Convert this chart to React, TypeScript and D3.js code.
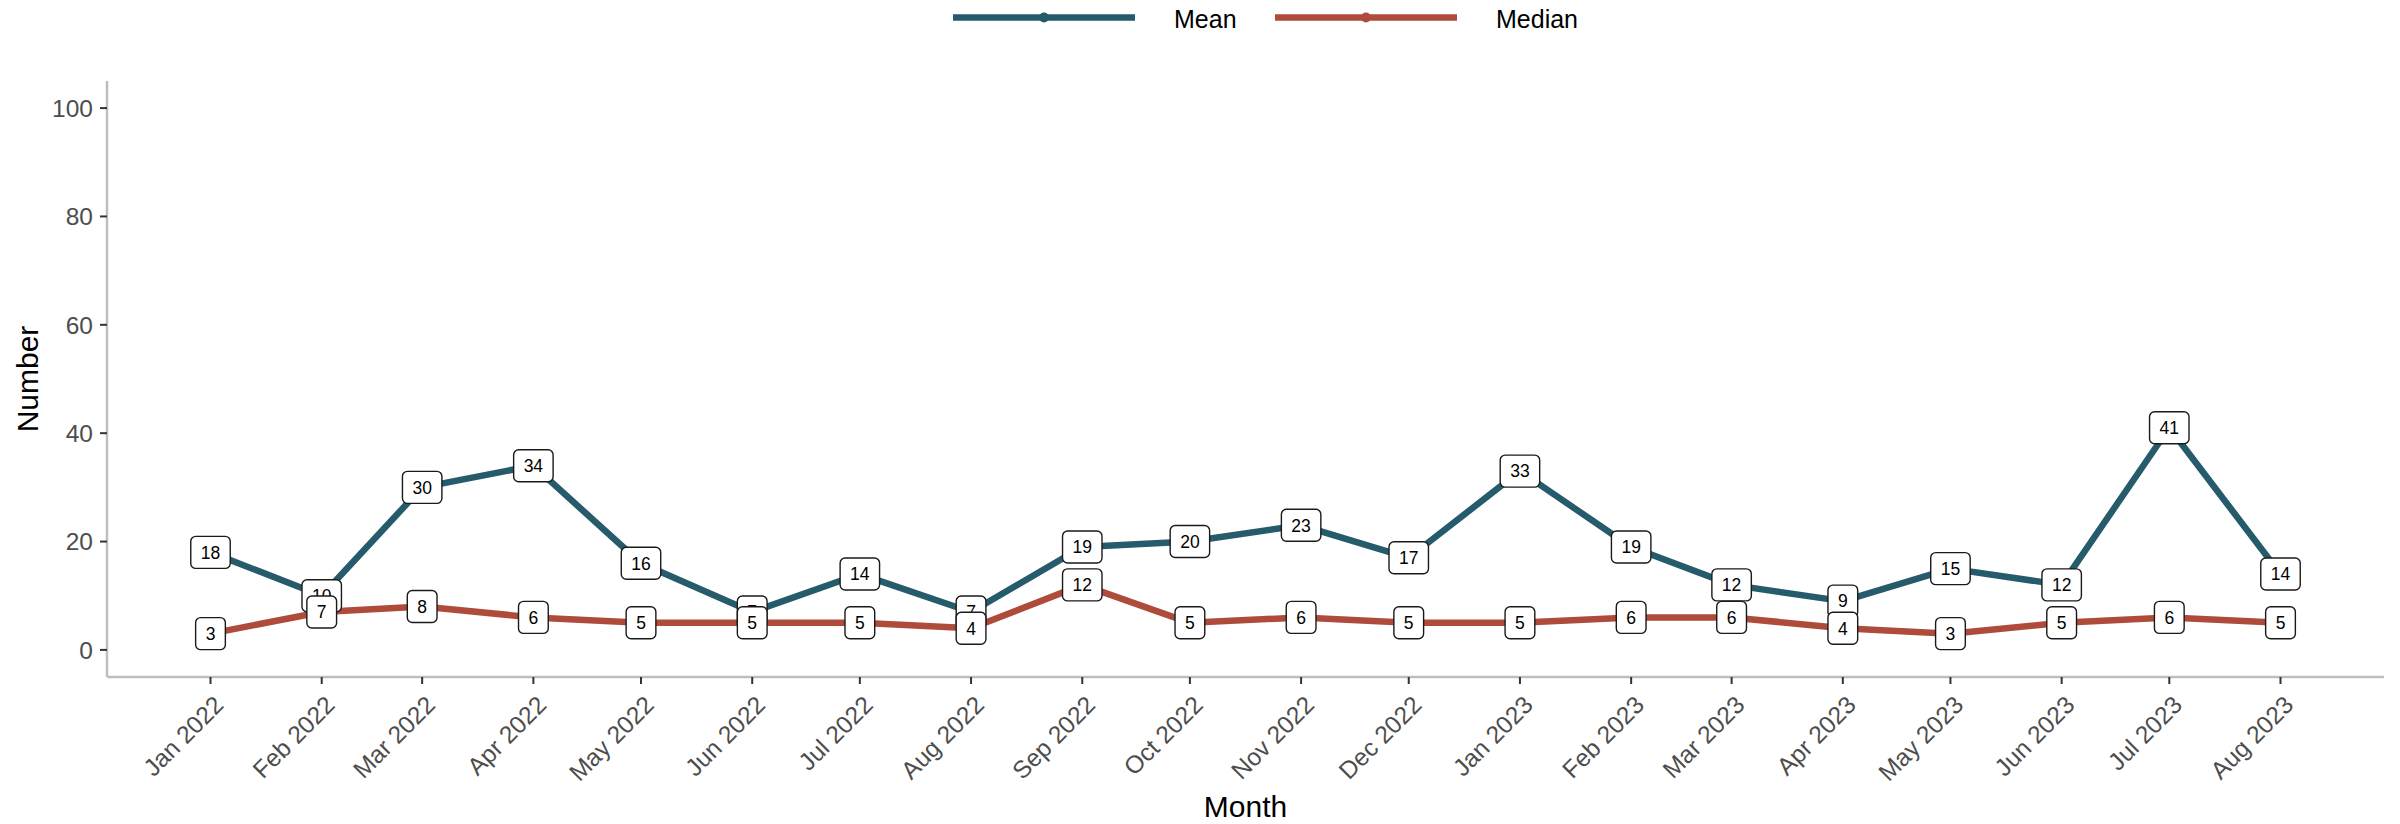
import React from 'react';
import * as d3 from 'd3';

// months shown on the x axis
const months = [
  '2022-01', '2022-02', '2022-03', '2022-04', '2022-05', '2022-06', '2022-07',
  '2022-08', '2022-09', '2022-10', '2022-11', '2022-12', '2023-01', '2023-02',
  '2023-03', '2023-04', '2023-05', '2023-06', '2023-07', '2023-08',
];
const meanValues = [18, 10, 30, 34, 16, 7, 14, 7, 19, 20, 23, 17, 33, 19, 12, 9, 15, 12, 41, 14];
const medianValues = [3, 7, 8, 6, 5, 5, 5, 4, 12, 5, 6, 5, 5, 6, 6, 4, 3, 5, 6, 5];
const yTicks = [0, 20, 40, 60, 80, 100];

const seriesNames = ['Mean', 'Median'];
const colors = ['#255B6B', '#AE4B3B'];

const WIDTH = 2400;
const HEIGHT = 824;
const PANEL = { left: 107, right: 2384, top: 81, bottom: 677 };
const FONT = '"Liberation Sans", Arial, Helvetica, sans-serif';

const parseMonth = d3.timeParse('%Y-%m');
const fmtMonth = d3.timeFormat('%b %Y');

type Pt = { date: Date; value: number };

const App: React.FC = () => {
  const dates = months.map(m => parseMonth(m)!);

  // ggplot style 5% expansion on both scales
  const [d0, d1] = d3.extent(dates) as [Date, Date];
  const span = d1.getTime() - d0.getTime();
  const xScale = d3.scaleTime()
    .domain([new Date(d0.getTime() - span * 0.05), new Date(d1.getTime() + span * 0.05)])
    .range([PANEL.left, PANEL.right]);

  const yScale = d3.scaleLinear()
    .domain([-5, 105])
    .range([PANEL.bottom, PANEL.top]);

  const series: Pt[][] = [meanValues, medianValues].map(vals =>
    vals.map((v, i) => ({ date: dates[i], value: v }))
  );

  const line = d3.line<Pt>()
    .x(d => xScale(d.date))
    .y(d => yScale(d.value));

  const labelFont = 17.5;
  const digitW = labelFont * 0.556;

  const legendItems = [
    { x0: 953, x1: 1135, tx: 1174 },
    { x0: 1275, x1: 1457, tx: 1496 },
  ];

  return (
    <svg width={WIDTH} height={HEIGHT} style={{ position: 'absolute', left: 0, top: 0, background: '#fff' }}
      fontFamily={FONT}>
      <rect width={WIDTH} height={HEIGHT} fill="#fff" />

      {/* Legend */}
      {seriesNames.map((name, i) => (
        <g key={name}>
          <line x1={legendItems[i].x0} x2={legendItems[i].x1} y1={17.5} y2={17.5}
            stroke={colors[i]} strokeWidth={6.5} />
          <circle cx={(legendItems[i].x0 + legendItems[i].x1) / 2} cy={17.5} r={5} fill={colors[i]} />
          <text x={legendItems[i].tx} y={28} fontSize={25} fill="#000">{name}</text>
        </g>
      ))}

      {/* Axes lines */}
      <line x1={PANEL.left} x2={PANEL.left} y1={PANEL.top} y2={PANEL.bottom} stroke="#BEBEBE" strokeWidth={2.5} />
      <line x1={PANEL.left} x2={PANEL.right} y1={PANEL.bottom} y2={PANEL.bottom} stroke="#BEBEBE" strokeWidth={2.5} />

      {/* Y axis */}
      {yTicks.map(t => (
        <g key={t}>
          <line x1={PANEL.left - 7} x2={PANEL.left} y1={yScale(t)} y2={yScale(t)} stroke="#333" strokeWidth={2} />
          <text x={PANEL.left - 14} y={yScale(t)} dy="0.36em" textAnchor="end" fontSize={24.5} fill="#4D4D4D">{t}</text>
        </g>
      ))}
      <text transform={`translate(38,${(PANEL.top + PANEL.bottom) / 2}) rotate(-90)`} textAnchor="middle"
        fontSize={30} fill="#000">Number</text>

      {/* X axis */}
      {dates.map((d, i) => (
        <g key={months[i]}>
          <line x1={xScale(d)} x2={xScale(d)} y1={PANEL.bottom} y2={PANEL.bottom + 7} stroke="#333" strokeWidth={2} />
          <text transform={`translate(${xScale(d) + 2},${PANEL.bottom + 17}) rotate(-45)`} textAnchor="end"
            dy="0.72em" fontSize={24.5} fill="#4D4D4D">{fmtMonth(d)}</text>
        </g>
      ))}
      <text x={(PANEL.left + PANEL.right) / 2} y={817} textAnchor="middle" fontSize={30} fill="#000">Month</text>

      {/* Lines */}
      {series.map((s, i) => (
        <path key={seriesNames[i]} d={line(s) || ''} fill="none" stroke={colors[i]} strokeWidth={6.5}
          strokeLinejoin="round" />
      ))}
      {series.map((s, i) => s.map(p => (
        <circle key={`${i}-${p.date.getTime()}`} cx={xScale(p.date)} cy={yScale(p.value)} r={4.5} fill={colors[i]} />
      )))}

      {/* Labels */}
      {series.map((s, i) => s.map(p => {
        const txt = String(Math.round(p.value));
        const w = txt.length * digitW + 20;
        const h = 32;
        const cx = xScale(p.date);
        const cy = yScale(p.value);
        return (
          <g key={`lab-${i}-${p.date.getTime()}`}>
            <rect x={cx - w / 2} y={cy - h / 2} width={w} height={h} rx={5} ry={5}
              fill="#fff" stroke="#1a1a1a" strokeWidth={1.4} />
            <text x={cx} y={cy} dy="0.36em" textAnchor="middle" fontSize={labelFont} fill="#000">{txt}</text>
          </g>
        );
      }))}
    </svg>
  );
};

export default App;
